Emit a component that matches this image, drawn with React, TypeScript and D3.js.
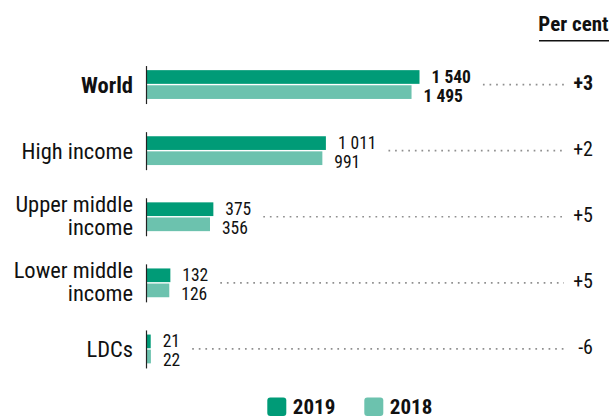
import React, { useEffect, useRef } from 'react';
import * as d3 from 'd3';

const categories = ['World', 'High income', 'Upper middle income', 'Lower middle income', 'LDCs'];
const labelLines = [['World'], ['High income'], ['Upper middle', 'income'], ['Lower middle', 'income'], ['LDCs']];
const values2019 = [1540, 1011, 375, 132, 21];
const values2018 = [1495, 991, 356, 126, 22];
const valueLabels2019 = ['1 540', '1 011', '375', '132', '21'];
const valueLabels2018 = ['1 495', '991', '356', '126', '22'];
const perCent = ['+3', '+2', '+5', '+5', '-6'];
const years = ['2019', '2018'];

const COLOR_2019 = '#009b77';
const COLOR_2018 = '#6cc2ae';
const FONT = "'Roboto Condensed', 'Liberation Sans Narrow', 'Arial Narrow', Roboto, sans-serif";

const App = () => {
    const svgRef = useRef<SVGSVGElement | null>(null);

    useEffect(() => {
        if (!svgRef.current) return;
        const width = 609;
        const height = 416;

        const svg = d3.select(svgRef.current);
        svg.selectAll('*').remove();
        svg.attr('width', width).attr('height', height)
            .style('font-family', FONT);

        const x = d3.scaleLinear()
            .domain([0, d3.max(values2019) as number])
            .range([147, 419.5]);

        const y = d3.scaleBand()
            .domain(categories)
            .range([51.5, 382])
            .padding(0);

        const center = (i: number) => (y(categories[i]) as number) + y.bandwidth() / 2;
        const rows = categories.map((c, i) => ({ c, i }));

        // header
        svg.append('text')
            .attr('x', 608.5)
            .attr('y', 30.5)
            .attr('text-anchor', 'end')
            .style('font-size', '21px')
            .style('font-weight', 'bold')
            .attr('fill', '#111')
            .text('Per cent');
        svg.append('line')
            .attr('x1', 539).attr('x2', 609)
            .attr('y1', 40.7).attr('y2', 40.7)
            .attr('stroke', '#111')
            .attr('stroke-width', 1.5);

        const g = svg.selectAll('g.row')
            .data(rows)
            .enter()
            .append('g')
            .attr('class', 'row');

        // bars
        g.append('rect')
            .attr('x', x(0))
            .attr('y', d => center(d.i) - 14.4)
            .attr('width', d => x(values2019[d.i]) - x(0))
            .attr('height', 13.7)
            .attr('fill', COLOR_2019);
        g.append('rect')
            .attr('x', x(0))
            .attr('y', d => center(d.i) + 0.7)
            .attr('width', d => x(values2018[d.i]) - x(0))
            .attr('height', 13.7)
            .attr('fill', COLOR_2018);

        // axis line per row
        g.append('line')
            .attr('x1', 146.5).attr('x2', 146.5)
            .attr('y1', d => center(d.i) - 18.5)
            .attr('y2', d => center(d.i) + 19.5)
            .attr('stroke', '#222')
            .attr('stroke-width', 1.2);

        // category labels
        g.each(function (d) {
            const lines = labelLines[d.i];
            const c = center(d.i);
            const t = d3.select(this).append('text')
                .attr('text-anchor', 'end')
                .attr('fill', '#111')
                .style('font-size', '22.5px')
                .style('font-weight', d.i === 0 ? 'bold' : 'normal');
            if (lines.length === 1) {
                t.append('tspan').attr('x', 133).attr('y', c + 8).text(lines[0]);
            } else {
                t.append('tspan').attr('x', 133).attr('y', c - 4.5).text(lines[0]);
                t.append('tspan').attr('x', 133).attr('y', c + 18.5).text(lines[1]);
            }
        });

        // value labels
        const lab19 = g.append('text')
            .attr('x', d => x(values2019[d.i]) + 12)
            .attr('y', d => center(d.i) - 1.8)
            .attr('fill', '#111')
            .style('font-size', '17.5px')
            .style('font-weight', d => d.i === 0 ? 'bold' : 'normal')
            .text(d => valueLabels2019[d.i]);
        const lab18 = g.append('text')
            .attr('x', d => x(values2018[d.i]) + 12)
            .attr('y', d => center(d.i) + 17.2)
            .attr('fill', '#111')
            .style('font-size', '17.5px')
            .style('font-weight', d => d.i === 0 ? 'bold' : 'normal')
            .text(d => valueLabels2018[d.i]);

        const ends = categories.map(() => 0);
        lab19.each(function (d) {
            const el = this as SVGTextElement;
            ends[d.i] = Math.max(ends[d.i], x(values2019[d.i]) + 12 + el.getComputedTextLength());
        });
        lab18.each(function (d) {
            const el = this as SVGTextElement;
            ends[d.i] = Math.max(ends[d.i], x(values2018[d.i]) + 12 + el.getComputedTextLength());
        });

        // dotted leader lines
        g.append('line')
            .attr('x1', d => ends[d.i] + 12)
            .attr('x2', 564)
            .attr('y1', d => center(d.i))
            .attr('y2', d => center(d.i))
            .attr('stroke', '#8f8f8f')
            .attr('stroke-width', 1.7)
            .attr('stroke-dasharray', '1.7 4.9');

        // per cent change
        g.append('text')
            .attr('x', 593)
            .attr('y', d => center(d.i) + 5.5)
            .attr('text-anchor', 'end')
            .attr('fill', '#111')
            .style('font-size', '20px')
            .style('font-weight', d => d.i === 0 ? 'bold' : 'normal')
            .text(d => perCent[d.i]);

        // legend
        const legendX = [267.3, 364.3];
        const legend = svg.selectAll('g.legend')
            .data(years)
            .enter()
            .append('g')
            .attr('class', 'legend')
            .attr('transform', (d, i) => `translate(${legendX[i]},397.5)`);
        legend.append('rect')
            .attr('width', 19).attr('height', 18.5)
            .attr('rx', 3)
            .attr('fill', (d, i) => (i === 0 ? COLOR_2019 : COLOR_2018));
        legend.append('text')
            .attr('x', 25.5)
            .attr('y', 16.5)
            .attr('fill', '#111')
            .style('font-size', '21px')
            .style('font-weight', 'bold')
            .text(d => d);
    }, []);

    return (
        <div style={{ position: 'absolute', left: 0, top: 0, width: 609, height: 416, background: '#fff', overflow: 'hidden' }}>
            <svg ref={svgRef} style={{ display: 'block' }}></svg>
        </div>
    );
};

export default App;
